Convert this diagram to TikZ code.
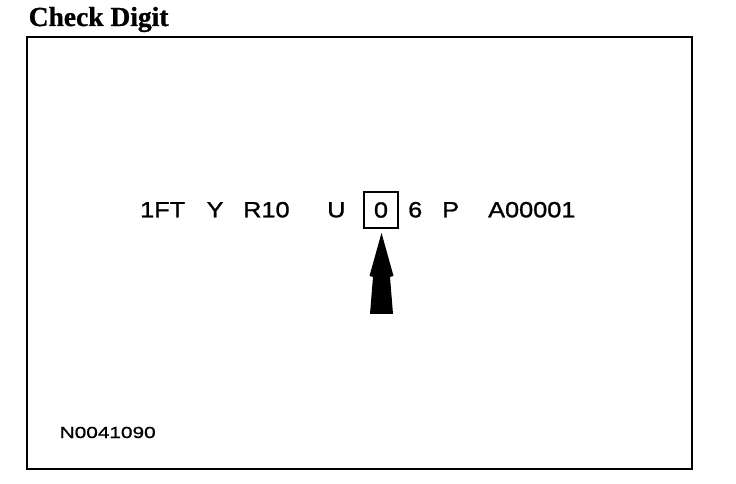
\documentclass[tikz,border=0pt]{standalone}
\usepackage{fontspec}
\setmainfont{Liberation Serif}
\newfontfamily\vinfont[FakeStretch=1.15, FakeBold=1.2]{Liberation Sans}
\newfontfamily\tagfont[FakeStretch=1.3, FakeBold=1]{Liberation Sans}
\newfontfamily\headfont[FakeBold=1]{Liberation Serif}
\usetikzlibrary{calc}

\tikzset{
  vinpart/.style={anchor=base west, inner sep=0pt,
                  font=\vinfont\fontsize{22pt}{26pt}\selectfont},
  checkbox/.style={draw, line width=1.8pt, inner sep=0pt,
                   minimum width=34pt, minimum height=36pt,
                   font=\vinfont\fontsize{22pt}{26pt}\selectfont}
}

\begin{document}
\begin{tikzpicture}[x=1pt, y=-1pt]
  \useasboundingbox (0,0) rectangle (736,484);

  % title and outer frame
  \node[anchor=base west, inner sep=0pt,
        font=\headfont\bfseries\fontsize{27.5pt}{30pt}\selectfont] (title) at (28.5,26) {Check Digit};
  \draw[line width=2pt] (27,37) rectangle (692,469);

  % the VIN, split in its parts
  \node[vinpart] (wmi)   at (140,217.3) {1FT};
  \node[vinpart] (rest)  at (206.5,217.3) {Y};
  \node[vinpart] (line)  at (243,217.3) {R10};
  \node[vinpart] (eng)   at (327,217.3) {U};
  \node[checkbox] (digit) at (381,210) {0};
  \node[vinpart] (year)  at (408,217.3) {6};
  \node[vinpart] (plant) at (442,217.3) {P};
  \node[vinpart] (serial) at (488,217.3) {A00001};

  % arrow up to the check digit
  \coordinate (tail) at ($(digit.south)+(0,85)$);
  \fill ($(digit.south)+(0.5,4)$) -- ($(tail)+(12.5,-38)$) -- ($(tail)+(9,-37)$)
    -- ($(tail)+(12,0)$) -- ($(tail)+(-11,0)$) -- ($(tail)+(-8,-37)$)
    -- ($(tail)+(-11.5,-38)$) -- cycle;

  % figure number
  \node[anchor=base west, inner sep=0pt,
        font=\tagfont\fontsize{16pt}{19pt}\selectfont] (fig) at (59.5,438) {N0041090};
\end{tikzpicture}
\end{document}
